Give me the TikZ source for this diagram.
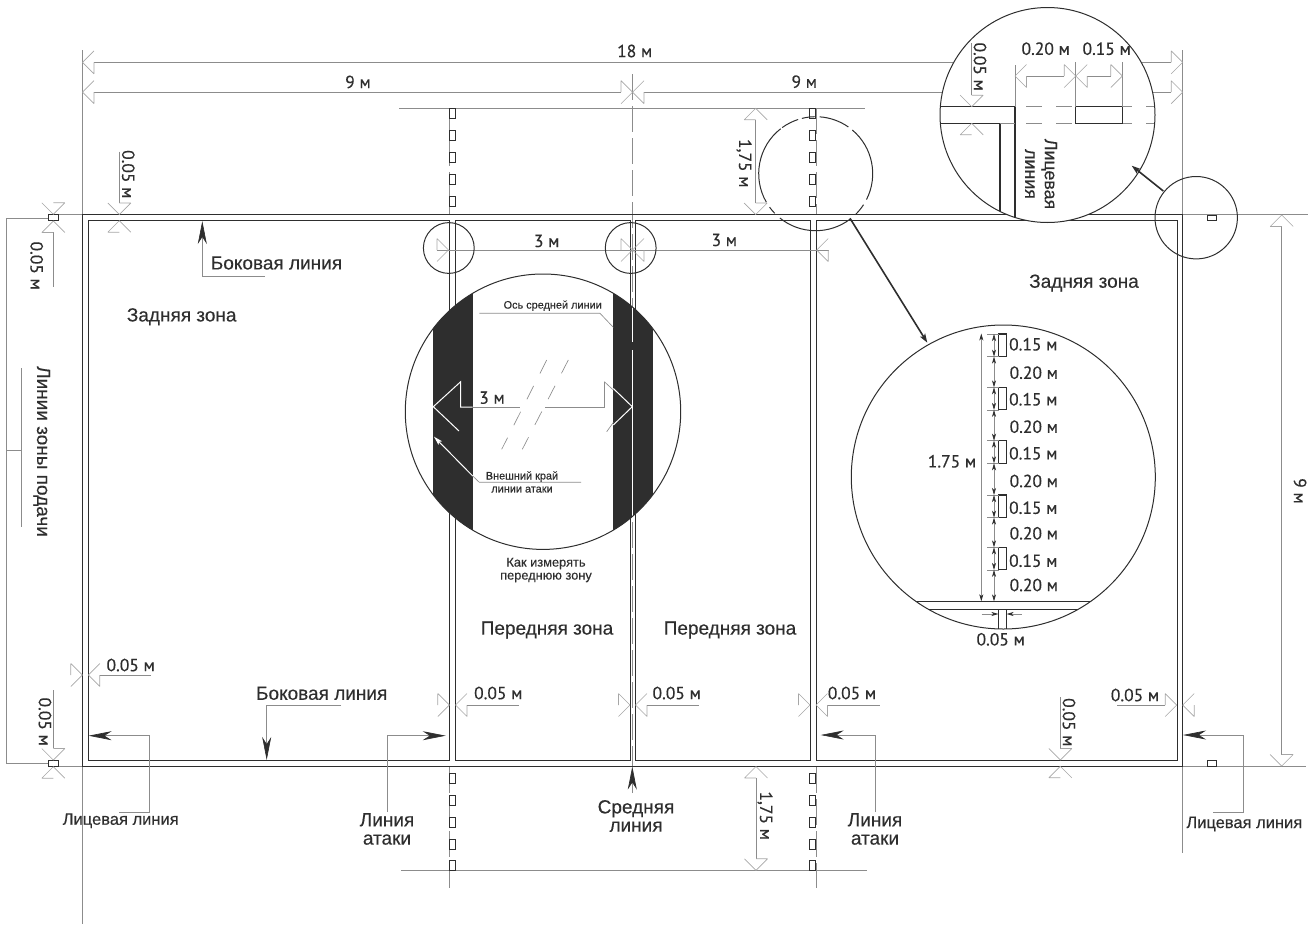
\documentclass[tikz,border=0pt]{standalone}
\usepackage{fontspec}
\usetikzlibrary{arrows.meta}
\setmainfont{Liberation Sans}
\newfontfamily\dimfont[FakeBold=0.4]{PT Sans}
\newfontfamily\labelfont[FakeBold=0.3]{Liberation Sans}
\definecolor{darkline}{HTML}{2E2E2E}
\definecolor{dimgray}{HTML}{8C8C8C}
\definecolor{headgray}{HTML}{A6A6A6}
\tikzset{
    court-line/.style = {draw=darkline, line width=1.4pt},
    dim-line/.style = {draw=dimgray, line width=.65pt},
    centre-line/.style = {draw=dimgray, line width=.65pt, dash pattern=on 26pt off 6pt},
    lens-line/.style = {draw=darkline, line width=1pt},
    pointer/.style = {draw=darkline, line width=1.6pt, -{Stealth[length=9pt,width=6pt,inset=2pt]}},
    leader/.style = {draw=dimgray, line width=.65pt, -{Stealth[length=23pt,width=9pt,inset=7pt,color=darkline]}},
    small-dim/.style = {draw=dimgray, line width=.65pt, {Stealth[length=7pt,width=4pt,inset=2pt,color=darkline]}-{Stealth[length=7pt,width=4pt,inset=2pt,color=darkline]}},
    small-tip/.style = {draw=dimgray, line width=.65pt, -{Stealth[length=7pt,width=4pt,inset=2pt,color=darkline]}},
    mark-box/.style = {draw=darkline, line width=1.1pt, fill=white},
    dim-text/.style = {text=darkline, inner sep=0pt, font=\dimfont\fontsize{17.5}{18}\selectfont},
    zone-text/.style = {text=darkline, inner sep=0pt, font=\labelfont\fontsize{19}{18.3}\selectfont},
    side-text/.style = {text=darkline, inner sep=0pt, font=\labelfont\fontsize{16.5}{18}\selectfont},
    tiny-text/.style = {text=darkline, inner sep=0pt, font=\labelfont\fontsize{10.9}{13}\selectfont},
    headopen/.pic = {\draw[draw=headgray, line width=.65pt] (-11.5,-11.5) -- (0,0) -- (-11.5,11.5) (-11.5,-11.5) -- (-11.5,0);},
}
\newcommand{\dimhead}[3]{\pic[rotate=#3] at (#1,#2) {headopen};}

\begin{document}
\begin{tikzpicture}[x=1pt,y=-1pt]
\useasboundingbox (0,0) rectangle (1309,924);

% extension lines
\draw[dim-line] (82.5,50) -- (82.5,924);
\draw[dim-line] (1182.5,50) -- (1182.5,853);
\draw[dim-line] (1183,214.5) -- (1308,214.5);
\draw[dim-line] (1183,766.5) -- (1306,766.5);
\draw[dim-line] (53,214.5) -- (82,214.5);
\draw[dim-line] (58,766.5) -- (82,766.5);
\draw[dim-line] (399,108.5) -- (865,108.5);
\draw[dim-line] (401,870.5) -- (867,870.5);

% centre and attack line axes
\draw[centre-line] (632.5,74) -- (632.5,766);
\foreach \axis in {449,816} {
    \draw[centre-line] (\axis,108) -- (\axis,214);
    \draw[centre-line] (\axis,767) -- (\axis,888);
}

% court
\draw[court-line] (82.5,214.5) rectangle (1182.5,766.5);
\draw[court-line] (88.5,220.5) rectangle (449.5,760.5);
\draw[court-line] (455.5,220.5) rectangle (630.5,760.5);
\draw[court-line] (635.5,220.5) rectangle (810.5,760.5);
\draw[court-line] (816.5,220.5) rectangle (1177.5,760.5);

% service zone ticks
\foreach \tick/\top in {449.5/108.5,449.5/130.5,449.5/152.5,449.5/174.5,449.5/196.5,809.5/108.5,809.5/130.5,809.5/152.5,809.5/174.5,809.5/196.5,449.5/773.5,449.5/795.5,449.5/817.5,449.5/839.5,449.5/860.5,809.5/773.5,809.5/795.5,809.5/817.5,809.5/839.5,809.5/860.5} {
    \draw[mark-box] (\tick,\top) rectangle ++(6,10);
}
\draw[mark-box] (48.5,214.5) rectangle (58.5,220.5);
\draw[mark-box] (48.5,760.5) rectangle (58.5,766.5);
\draw[mark-box] (1207.5,215.5) rectangle (1216.5,220.5);
\draw[mark-box] (1207.5,760.5) rectangle (1216.5,766.5);

% dimensions along the top
\draw[dim-line] (94,62.3) -- (1171.2,62.3);
\draw[dim-line] (94,92.2) -- (621,92.2) (644,92.2) -- (1171.2,92.2);
\dimhead{82.5}{62.3}{180} \dimhead{1182.7}{62.3}{0}
\dimhead{82.5}{92.2}{180} \dimhead{632.5}{92.2}{0}
\dimhead{632.5}{92.2}{180} \dimhead{1182.7}{92.2}{0}
\node[dim-text] (len18) at (634.7,51) {18 м};
\node[dim-text] (left9) at (358,82) {9 м};
\node[dim-text] (right9) at (804.3,81.7) {9 м};

% 1,75 m
\draw[dim-line] (755.7,120) -- (755.7,203);
\dimhead{755.7}{108.3}{90} \dimhead{755.7}{214.5}{-90}
\node[dim-text, rotate=-90] (top175) at (744,163.3) {1,75 м};
\draw[dim-line] (756,778) -- (756,859);
\dimhead{756}{766.5}{90} \dimhead{756}{870.3}{-90}
\node[dim-text, rotate=-90] (bottom175) at (765,815.7) {1,75 м};

% 3 m
\draw[dim-line] (436.8,250) -- (828.5,250);
\dimhead{448.5}{250}{0} \dimhead{632.5}{250}{0}
\dimhead{632.5}{250}{180} \dimhead{816.7}{250}{180}
\node[dim-text] (attack3a) at (546.7,241) {3 м};
\node[dim-text] (attack3b) at (724.3,240) {3 м};

% 0.05 m along the court
\dimhead{82.3}{675}{0} \dimhead{88.3}{675}{180}
\draw[dim-line] (99.8,675) -- (150.7,675);
\node[dim-text] (gapa) at (130.7,665) {0.05 м};
\foreach \tipa/\tipb/\stub/\textx/\wid in {449.3/455.5/519/498.3/b,630/635.5/698.7/676.7/c,810/816/880/852/d} {
    \dimhead{\tipa}{705}{0} \dimhead{\tipb}{705}{180}
    \draw[dim-line] (\tipb+11.5,705) -- (\stub,705);
    \node[dim-text] (gap\wid) at (\textx,693) {0.05 м};
}
\dimhead{1176.7}{705}{0} \dimhead{1182.7}{705}{180}
\draw[dim-line] (1165.2,705) -- (1116.7,705);
\node[dim-text] (gape) at (1135,695) {0.05 м};

% 0.05 m on vertical dims
\foreach \axis/\from/\to/\textx/\texty/\wid in {
    119.3/151.7/203/128.3/174.3/f,
    1060.3/697.3/748.5/1069/722.3/g,
    53.3/690/748/45/721.7/h,
    53.3/232/286.7/36.7/265.7/i} {
    \draw[dim-line] (\axis,\from) -- (\axis,\to);
    \node[dim-text, rotate=-90] (gap\wid) at (\textx,\texty) {0.05 м};
}
\dimhead{119.3}{214.5}{-90} \dimhead{119.3}{220.7}{90}
\dimhead{1060.3}{760}{-90} \dimhead{1060.3}{766.3}{90}
\dimhead{53.3}{760}{-90} \dimhead{53.3}{766.7}{90}
\dimhead{53.3}{214.3}{-90} \dimhead{53.3}{221}{90}

% 9 m on the right
\draw[dim-line] (1281.7,226) -- (1281.7,755);
\dimhead{1281.7}{215}{90} \dimhead{1281.7}{766}{-90}
\node[dim-text, rotate=-90] (width9) at (1300,491) {9 м};

% service zone lines label
\draw[dim-line] (48,218.3) -- (6.7,218.3) -- (6.7,763.3) -- (48,763.3);
\draw[dim-line] (6.7,450) -- (21.3,450) (21.3,368) -- (21.3,527);
\node[zone-text, rotate=-90] (servezone) at (41.7,451.5) {Линии зоны подачи};

% leaders
\draw[leader] (265,276) -- (202.3,276) -- (202.3,221);
\node[zone-text] (sidetop) at (276.5,263) {Боковая линия};
\draw[leader] (341,705.3) -- (266.7,705.3) -- (266.7,760);
\node[zone-text] (sidebottom) at (321.7,693.3) {Боковая линия};
\draw[leader] (119.3,812.3) -- (149.3,812.3) -- (149.3,735.7) -- (88.6,735.7);
\node[side-text] (endleft) at (120.7,820.7) {Лицевая линия};
\draw[leader] (1213.3,812.7) -- (1243.3,812.7) -- (1243.3,735) -- (1183,735);
\node[side-text] (endright) at (1244.3,824) {Лицевая линия};
\draw[leader] (387.7,811.7) -- (387.7,735.7) -- (445.7,735.7);
\node[zone-text, align=center] (attackleft) at (387,829) {Линия\\атаки};
\draw[leader] (875,812) -- (875,735) -- (820.7,735);
\node[zone-text, align=center] (attackright) at (875,829) {Линия\\атаки};
\draw[leader] (632.3,793) -- (632.3,766.5);
\node[zone-text, align=center] (midline) at (636,816) {Средняя\\линия};

% zones
\node[zone-text] (backleft) at (181.7,316.7) {Задняя зона};
\node[zone-text] (backright) at (1084,283) {Задняя зона};
\node[zone-text] (frontleft) at (547,630) {Передняя зона};
\node[zone-text] (frontright) at (730,630) {Передняя зона};

% small circles
\draw[lens-line] (448.8,248) circle (25.4pt);
\draw[lens-line] (630.7,248) circle (25.4pt);
\draw[lens-line] (1196.2,217.7) circle (41.2pt);
\foreach \from/\to in {128/210,216/224,231/307,314/327,333/410,415/446,451/464,468/486} {
    \draw[lens-line] (815.7,173.7) ++(\from:57pt) arc[start angle=\from, end angle=\to, radius=57pt];
}

% lens at the centre
\fill[white] (543,411.7) circle (137.7pt);
\begin{scope}
    \clip (543,411.7) circle (137.7pt);
    \fill[darkline] (433.3,270) rectangle (472.7,555);
    \fill[darkline] (613.3,270) rectangle (653.3,555);
    \draw[white, line width=1.5pt] (632.7,306) -- (632.7,341.7) (632.7,350) -- (632.7,518);
\end{scope}
\draw[lens-line] (543,411.7) circle (137.7pt);
\draw[dim-line] (479.3,313.3) -- (600,313.3) -- (613.3,327.3);
\node[tiny-text] (axisnote) at (552.7,305.7) {Ось средней линии};
\draw[dim-line] (472.7,407) -- (520,407) (545,407) -- (604.3,407) -- (604.3,381.7);
\draw[dim-line] (604.3,381.7) -- (613.3,390) (613.3,422.5) -- (606.7,431.7);
\draw[dim-line, dash pattern=on 15pt off 14pt] (546.7,360) -- (501.7,449.3);
\draw[dim-line, dash pattern=on 15pt off 14pt] (568.3,360) -- (522.3,449.3);
\draw[white, line width=1pt] (472.7,407) -- (460.7,407) -- (460.7,381.7) -- (433.3,406.7) -- (459,431);
\draw[white, line width=1pt] (613.3,388.5) -- (632.3,406.7) -- (613.3,425);
\node[dim-text] (lens3) at (492,397.7) {3 м};
\draw[dim-line] (581,482.3) -- (479.3,482.3) -- (472.7,476);
\draw[white, line width=1pt, -{Stealth[length=9pt,width=5pt,inset=2pt]}] (472.7,476) -- (434,436.7);
\node[tiny-text, align=center] (edgenote) at (522,482) {Внешний край\\линии атаки};
\node[tiny-text, align=center, font=\labelfont\fontsize{12.8}{13}\selectfont] (howto) at (546,570) {Как измерять\\переднюю зону};

% lens on the service zone
\fill[white] (1003.3,477) circle (152pt);
\begin{scope}
    \clip (1003.3,477) circle (152pt);
    \draw[court-line] (850,601.7) -- (1160,601.7) (850,609.3) -- (1160,609.3);
    \draw[court-line] (998.7,609.3) -- (998.7,640) (1006.3,609.3) -- (1006.3,640);
\end{scope}
\draw[lens-line] (1003.3,477) circle (152pt);
\foreach \top/\labely in {334/344.3,387.3/399.3,440.7/453.3,495/507.7,547.3/560.7} {
    \draw[mark-box] (998.7,\top) rectangle ++(7.6,22.6);
    \draw[dim-line] (987,\top) -- (998.7,\top) (987,\top+22.6) -- (998.7,\top+22.6);
    \draw[small-dim] (994,\top) -- (994,\top+22.6);
    \node[dim-text] at (1033.3,\labely) {0.15 м};
}
\foreach \from/\to/\labely in {356.6/387.3/372.7,409.9/440.7/426.7,463.3/495/481,517.6/547.3/533.3,569.9/601.3/585} {
    \draw[small-dim] (994,\from) -- (994,\to);
    \node[dim-text] at (1033.8,\labely) {0.20 м};
}
\draw[small-dim] (981.3,333.5) -- (981.3,601.3);
\draw[small-tip] (981.7,614) -- (998.4,614);
\draw[small-tip] (1021.7,614) -- (1006.6,614);
\node[dim-text] (lens175) at (952,461.3) {1.75 м};
\node[dim-text] (lens005) at (1000.7,639.3) {0.05 м};
\draw[pointer] (850,218.3) -- (927.3,342.7);

% lens on the end line
\fill[white] (1047.5,115) circle (107.5pt);
\begin{scope}
    \clip (1047.5,115) circle (107.5pt);
    \draw[court-line] (930,106.7) -- (1015,106.7) -- (1015,230);
    \draw[court-line] (930,123.3) -- (1000,123.3) -- (1000,230);
    \draw[dim-line] (1000,123.3) -- (1015,123.3);
    \draw[dim-line, dash pattern=on 16pt off 14pt] (1026,106.7) -- (1155,106.7);
    \draw[dim-line, dash pattern=on 16pt off 14pt] (1026,123.3) -- (1155,123.3);
\end{scope}
\draw[lens-line] (1047.5,115) circle (107.5pt);
\draw[mark-box] (1075.7,106.7) rectangle (1122.3,123.3);
\draw[dim-line] (1015,65) -- (1015,106.7) (1075.7,62) -- (1075.7,106.7) (1122.3,62) -- (1122.3,106.7);
\draw[dim-line] (1026.5,76) -- (1064.2,76) (1087.2,76) -- (1110.8,76);
\dimhead{1015}{76}{180} \dimhead{1075.7}{76}{0}
\dimhead{1075.7}{76}{180} \dimhead{1122.3}{76}{0}
\draw[dim-line] (971.7,43.3) -- (971.7,95);
\dimhead{971.7}{106.7}{-90} \dimhead{971.7}{123.3}{90}
\node[dim-text, rotate=-90] (lensgap) at (980,66.7) {0.05 м};
\node[dim-text] (lens20) at (1045.7,48.7) {0.20 м};
\node[dim-text] (lens15) at (1106.7,48.7) {0.15 м};
\node[side-text, rotate=-90, align=center, font=\labelfont\fontsize{17.8}{19.7}\selectfont] (lensend) at (1041,174) {Лицевая\\линия};
\draw[pointer] (1163.3,191) -- (1131.7,165.7);
\end{tikzpicture}
\end{document}
